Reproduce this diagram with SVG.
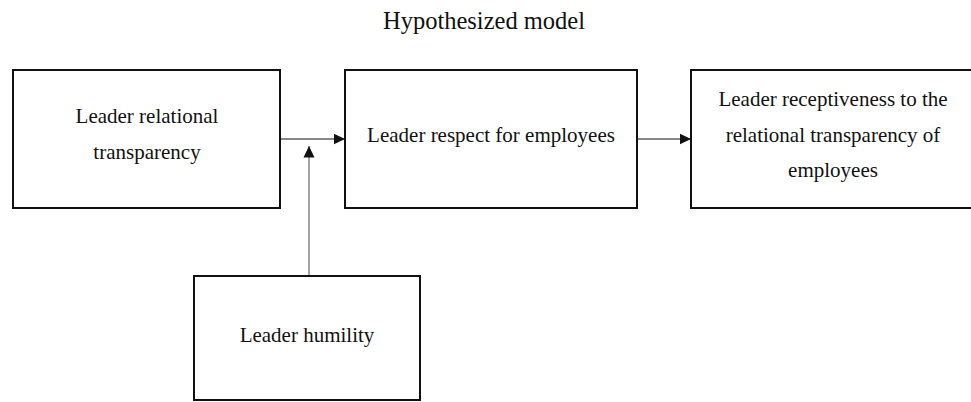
<svg xmlns="http://www.w3.org/2000/svg" width="971" height="402" viewBox="0 0 971 402">
<style>
.box{fill:#fff;stroke:#111;stroke-width:2}
.t{font-family:'Liberation Serif','Times New Roman',serif;font-size:21px;fill:#111;text-anchor:middle}
.title{font-size:24.5px}
.ln{stroke:#111;stroke-width:1.2;fill:none}
</style>
<defs>
<marker id="ah" markerWidth="12" markerHeight="12" refX="11.5" refY="6" orient="auto" markerUnits="userSpaceOnUse">
<path d="M0,0.5 L11.5,6 L0,11.5 Z" fill="#111"/>
</marker>
</defs>
<rect width="971" height="402" fill="#fff"/>
<text class="t title" x="484" y="29">Hypothesized model</text>
<g id="n1"><rect class="box" x="13" y="70" width="267" height="138"/>
<text class="t" x="147" y="123">Leader relational</text>
<text class="t" x="147" y="159">transparency</text></g>
<g id="n2"><rect class="box" x="345" y="70" width="292" height="138"/>
<text class="t" x="491" y="142">Leader respect for employees</text></g>
<g id="n3"><rect class="box" x="691" y="70" width="290" height="138"/>
<text class="t" x="833" y="105.5">Leader receptiveness to the</text>
<text class="t" x="833" y="141.5">relational transparency of</text>
<text class="t" x="833" y="177">employees</text></g>
<g id="n4"><rect class="box" x="194" y="276" width="226" height="124"/>
<text class="t" x="307" y="342">Leader humility</text></g>
<g id="edges">
<line class="ln" x1="281" y1="139" x2="345" y2="139" marker-end="url(#ah)"/>
<line class="ln" x1="638" y1="139" x2="691" y2="139" marker-end="url(#ah)"/>
<line class="ln" x1="309" y1="275" x2="309" y2="146" marker-end="url(#ah)" style="stroke:#666"/>
</g>
</svg>
